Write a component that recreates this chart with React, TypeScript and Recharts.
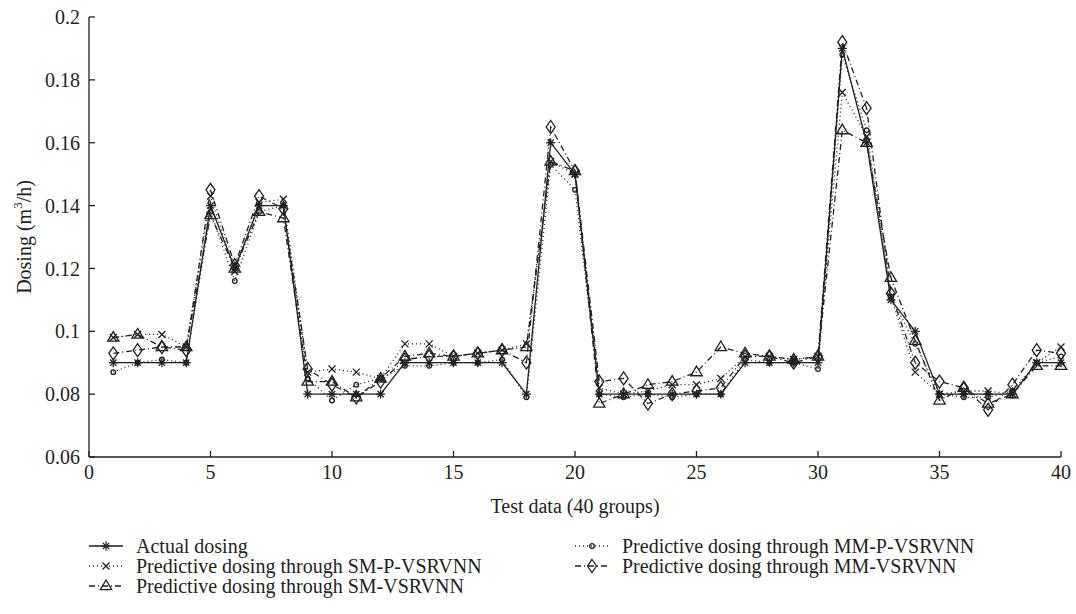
import { LineChart, Line, XAxis, YAxis } from 'recharts';

const groups = [
  1, 2, 3, 4, 5, 6, 7, 8, 9, 10, 11, 12, 13, 14, 15, 16, 17, 18, 19, 20,
  21, 22, 23, 24, 25, 26, 27, 28, 29, 30, 31, 32, 33, 34, 35, 36, 37, 38, 39, 40,
];

const actual = [
  0.09, 0.09, 0.09, 0.09, 0.14, 0.12, 0.14, 0.14, 0.08, 0.08,
  0.08, 0.08, 0.09, 0.09, 0.09, 0.09, 0.09, 0.08, 0.16, 0.15,
  0.08, 0.08, 0.08, 0.08, 0.08, 0.08, 0.09, 0.09, 0.09, 0.09,
  0.19, 0.16, 0.11, 0.1, 0.08, 0.08, 0.08, 0.08, 0.09, 0.09,
];
const smP = [
  0.098, 0.099, 0.099, 0.095, 0.143, 0.119, 0.141, 0.142, 0.087, 0.088,
  0.087, 0.085, 0.096, 0.096, 0.092, 0.093, 0.094, 0.096, 0.154, 0.15,
  0.082, 0.08, 0.081, 0.083, 0.083, 0.085, 0.092, 0.092, 0.091, 0.092,
  0.176, 0.162, 0.111, 0.087, 0.08, 0.081, 0.081, 0.08, 0.09, 0.095,
];
const sm = [
  0.098, 0.099, 0.095, 0.095, 0.137, 0.12, 0.138, 0.136, 0.084, 0.084,
  0.079, 0.085, 0.092, 0.093, 0.092, 0.093, 0.094, 0.095, 0.154, 0.151,
  0.077, 0.08, 0.083, 0.084, 0.087, 0.095, 0.093, 0.092, 0.091, 0.092,
  0.164, 0.16, 0.117, 0.097, 0.078, 0.082, 0.077, 0.08, 0.089, 0.089,
];
const mmP = [
  0.087, 0.09, 0.091, 0.09, 0.138, 0.116, 0.138, 0.14, 0.085, 0.078,
  0.083, 0.085, 0.089, 0.089, 0.09, 0.09, 0.091, 0.079, 0.153, 0.145,
  0.08, 0.079, 0.08, 0.079, 0.08, 0.08, 0.091, 0.09, 0.09, 0.088,
  0.188, 0.164, 0.111, 0.096, 0.08, 0.079, 0.079, 0.081, 0.09, 0.092,
];
const mm = [
  0.093, 0.094, 0.095, 0.094, 0.145, 0.121, 0.143, 0.139, 0.088, 0.083,
  0.079, 0.084, 0.091, 0.092, 0.092, 0.093, 0.094, 0.09, 0.165, 0.151,
  0.084, 0.085, 0.077, 0.08, 0.081, 0.082, 0.092, 0.092, 0.09, 0.092,
  0.192, 0.171, 0.112, 0.09, 0.084, 0.082, 0.075, 0.083, 0.094, 0.093,
];

const xTicks = [0, 5, 10, 15, 20, 25, 30, 35, 40];
const yTicks = [0.06, 0.08, 0.1, 0.12, 0.14, 0.16, 0.18, 0.2];

const data = groups.map((g, i) => ({
  group: g,
  actual: actual[i],
  smP: smP[i],
  sm: sm[i],
  mmP: mmP[i],
  mm: mm[i],
}));

const ink = '#231f20';
const font = 'Liberation Serif';
const DOTTED = '1 3';
const DASHDOT = '6 3 1 3';

type Pt = { cx: number; cy: number };

function Star({ cx, cy }: Pt) {
  const r = 4.5;
  const d = r * 0.7;
  return (
    <g stroke={ink} strokeWidth={1.3}>
      <line x1={cx - r} y1={cy} x2={cx + r} y2={cy} />
      <line x1={cx} y1={cy - r} x2={cx} y2={cy + r} />
      <line x1={cx - d} y1={cy - d} x2={cx + d} y2={cy + d} />
      <line x1={cx - d} y1={cy + d} x2={cx + d} y2={cy - d} />
    </g>
  );
}

function Cross({ cx, cy }: Pt) {
  const r = 3.5;
  return (
    <g stroke={ink} strokeWidth={1.3}>
      <line x1={cx - r} y1={cy - r} x2={cx + r} y2={cy + r} />
      <line x1={cx - r} y1={cy + r} x2={cx + r} y2={cy - r} />
    </g>
  );
}

function Tri({ cx, cy }: Pt) {
  const r = 6;
  return (
    <polygon
      points={`${cx},${cy - r} ${cx + r * 0.95},${cy + r * 0.6} ${cx - r * 0.95},${cy + r * 0.6}`}
      fill="none"
      stroke={ink}
      strokeWidth={1.3}
    />
  );
}

function Circ({ cx, cy }: Pt) {
  return <circle cx={cx} cy={cy} r={2.3} fill="none" stroke={ink} strokeWidth={1.3} />;
}

function Diam({ cx, cy }: Pt) {
  const h = 6.5;
  const w = 4.5;
  return (
    <polygon
      points={`${cx},${cy - h} ${cx + w},${cy} ${cx},${cy + h} ${cx - w},${cy}`}
      fill="none"
      stroke={ink}
      strokeWidth={1.3}
    />
  );
}

const markerOf = (Shape: (p: Pt) => JSX.Element) => (p: any) => {
  if (p.cx == null || p.cy == null) return <g key={p.index} />;
  return (
    <g key={p.index}>
      <Shape cx={p.cx} cy={p.cy} />
    </g>
  );
};

const series = [
  { key: 'smP', name: 'Predictive dosing through SM-P-VSRVNN', dash: DOTTED, shape: Cross },
  { key: 'sm', name: 'Predictive dosing through SM-VSRVNN', dash: DASHDOT, shape: Tri },
  { key: 'mmP', name: 'Predictive dosing through MM-P-VSRVNN', dash: DOTTED, shape: Circ },
  { key: 'mm', name: 'Predictive dosing through MM-VSRVNN', dash: DASHDOT, shape: Diam },
  { key: 'actual', name: 'Actual dosing', dash: undefined, shape: Star },
];

function LegendItem({ label, dash, Shape }: { label: string; dash?: string; Shape: (p: Pt) => JSX.Element }) {
  return (
    <div style={{ display: 'flex', alignItems: 'center', height: 20 }}>
      <svg width={49} height={16} style={{ flex: 'none' }}>
        <line x1={2} y1={8} x2={36} y2={8} stroke={ink} strokeWidth={1.3} strokeDasharray={dash} />
        <Shape cx={19} cy={8} />
      </svg>
      <span style={{ fontSize: 20, lineHeight: '20px', color: ink, fontFamily: font, whiteSpace: 'nowrap' }}>{label}</span>
    </div>
  );
}

const tickStyle = { fill: ink, fontSize: 20, fontFamily: font };

export default function App() {
  return (
    <div style={{ position: 'absolute', left: 0, top: 0, width: 1076, height: 614, background: '#fff', fontFamily: font }}>
      <LineChart width={1076} height={540} data={data} margin={{ top: 17, right: 15, bottom: 0, left: 0 }}>
        <XAxis
          dataKey="group"
          type="number"
          domain={[0, 40]}
          ticks={xTicks}
          tick={tickStyle}
          tickSize={-6}
          tickMargin={14}
          height={83}
          stroke={ink}
          strokeWidth={1.3}
          interval={0}
          label={({ viewBox }: any) => (
            <text
              x={viewBox.x + viewBox.width / 2}
              y={viewBox.y + 49}
              textAnchor="middle"
              dominantBaseline="central"
              fill={ink}
              fontSize={20}
              fontFamily={font}
            >
              Test data (40 groups)
            </text>
          )}
        />
        <XAxis
          xAxisId="top"
          orientation="top"
          type="number"
          dataKey="group"
          domain={[0, 40]}
          ticks={xTicks}
          tick={false}
          tickSize={-6}
          height={0}
          stroke={ink}
          strokeWidth={1.3}
          interval={0}
        />
        <YAxis
          type="number"
          domain={[0.06, 0.2]}
          ticks={yTicks}
          tick={tickStyle}
          tickFormatter={(v) => String(v)}
          tickSize={-6}
          tickMargin={15}
          width={89}
          stroke={ink}
          strokeWidth={1.3}
          interval={0}
          label={({ viewBox }: any) => {
            const x = viewBox.x + 24;
            const y = viewBox.y + viewBox.height / 2;
            return (
              <text
                x={x}
                y={y}
                transform={`rotate(-90 ${x} ${y})`}
                textAnchor="middle"
                dominantBaseline="central"
                fill={ink}
                fontSize={20}
                fontFamily={font}
              >
                Dosing (m<tspan dy={-7} fontSize={13}>3</tspan>
                <tspan dy={7}>/h)</tspan>
              </text>
            );
          }}
        />
        <YAxis
          yAxisId="right"
          orientation="right"
          type="number"
          domain={[0.06, 0.2]}
          ticks={yTicks}
          tick={false}
          tickSize={-6}
          width={0}
          stroke={ink}
          strokeWidth={1.3}
          interval={0}
        />
        {series.map((s) => (
          <Line
            key={s.key}
            dataKey={s.key}
            name={s.name}
            type="linear"
            stroke={ink}
            strokeWidth={1.3}
            strokeDasharray={s.dash}
            dot={markerOf(s.shape)}
            activeDot={false}
            isAnimationActive={false}
          />
        ))}
      </LineChart>
      <div style={{ position: 'absolute', left: 87, top: 536 }}>
        <LegendItem label="Actual dosing" Shape={Star} />
        <LegendItem label="Predictive dosing through SM-P-VSRVNN" dash={DOTTED} Shape={Cross} />
        <LegendItem label="Predictive dosing through SM-VSRVNN" dash={DASHDOT} Shape={Tri} />
      </div>
      <div style={{ position: 'absolute', left: 573, top: 536 }}>
        <LegendItem label="Predictive dosing through MM-P-VSRVNN" dash={DOTTED} Shape={Circ} />
        <LegendItem label="Predictive dosing through MM-VSRVNN" dash={DASHDOT} Shape={Diam} />
      </div>
    </div>
  );
}
